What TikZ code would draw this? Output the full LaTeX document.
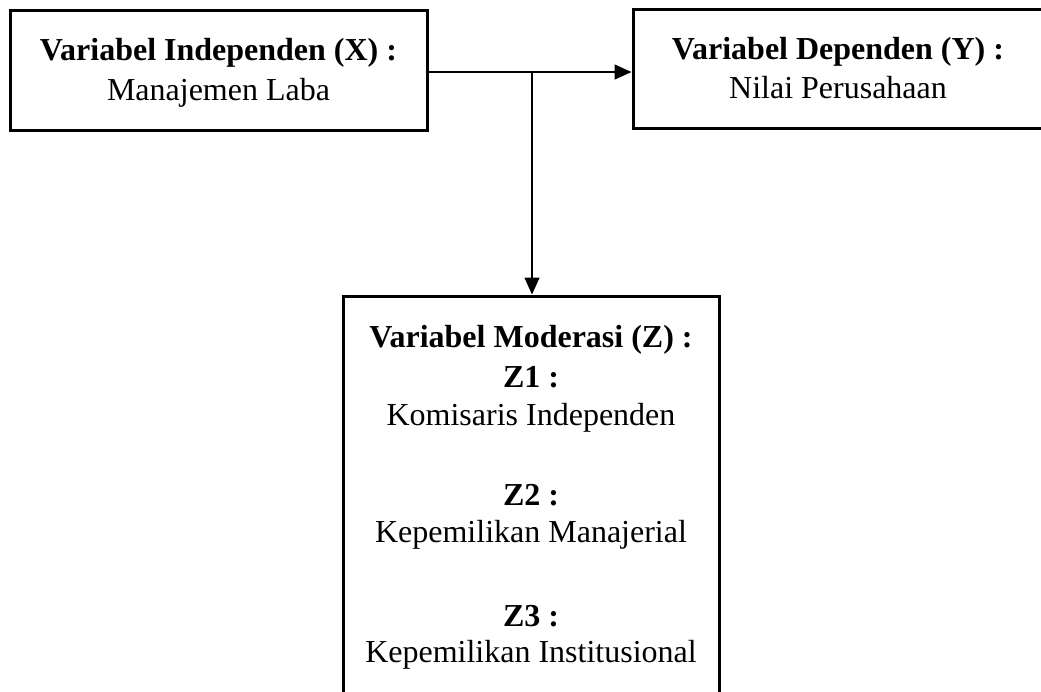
\documentclass[tikz,border=0pt]{standalone}
\usepackage{fontspec}
\setmainfont{Liberation Serif}
\usetikzlibrary{arrows.meta}
\begin{document}
\begin{tikzpicture}[x=0.5pt,y=-0.5pt,
  box/.style={draw=black,line width=1.5pt,rectangle,inner sep=0pt},
  conn/.style={line width=0.75pt,-{Triangle[length=8.5pt,width=7.5pt]}},
  txt/.style={anchor=base,inner sep=0pt,font=\fontsize{16}{19}\selectfont},
  btxt/.style={txt,font=\fontsize{16}{19}\selectfont\bfseries}]
\useasboundingbox (0,0) rectangle (1041,692);
\clip (0,0) rectangle (1041,692);
% boxes
\node[box,minimum width=208.5pt,minimum height=60pt] (X) at (218.5,70) {};
\node[box,minimum width=205pt,minimum height=59.5pt] (Y) at (838,68.5) {};
\node[box,minimum width=188pt,minimum height=204.5pt] (Z) at (531,500.5) {};
% texts
\node[btxt] (x1) at (218.5,60) {Variabel Independen (X) :};
\node[txt] (x2) at (218.5,100) {Manajemen Laba};
\node[btxt] (y1) at (838,59) {Variabel Dependen (Y) :};
\node[txt] (y2) at (838,98) {Nilai Perusahaan};
\node[btxt] (z1) at (531,347) {Variabel Moderasi (Z) :};
\node[btxt] (z2) at (531,387) {Z1 :};
\node[txt] (z3) at (531,425) {Komisaris Independen};
\node[btxt] (z4) at (531,505) {Z2 :};
\node[txt] (z5) at (531,542) {Kepemilikan Manajerial};
\node[btxt] (z6) at (531,626) {Z3 :};
\node[txt] (z7) at (531,662) {Kepemilikan Institusional};
% connectors
\coordinate (j) at (532,72);
\draw[conn] (X.east |- j) -- (j -| Y.west);
\draw[conn] (j) -- (j |- Z.north);
\end{tikzpicture}
\end{document}
